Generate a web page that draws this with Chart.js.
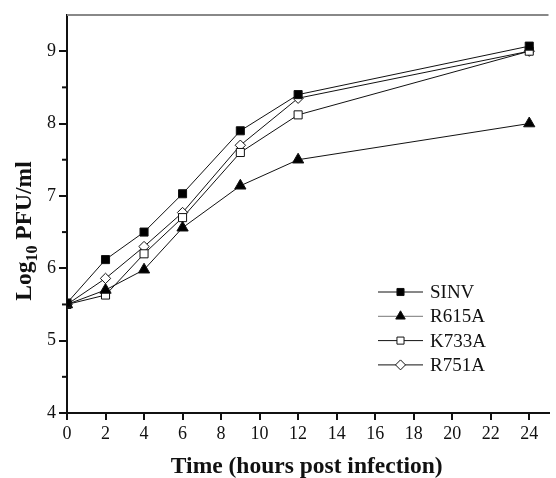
<!DOCTYPE html>
<html>
<head>
<meta charset="utf-8">
<script src="https://cdn.jsdelivr.net/npm/chart.js@4/dist/chart.umd.min.js"></script>
<style>
  html, body { margin: 0; padding: 0; background: #fff; }
  #wrap { width: 556px; height: 478px; }
</style>
</head>
<body>
<div id="wrap"><canvas id="growth"></canvas></div>
<script>
const hours = [0, 2, 4, 6, 9, 12, 24];
const sinv = [5.52, 6.12, 6.50, 7.03, 7.90, 8.40, 9.07];
const r615a = [5.50, 5.70, 5.98, 6.56, 7.14, 7.50, 8.00];
const k733a = [5.50, 5.63, 6.20, 6.70, 7.60, 8.12, 9.00];
const r751a = [5.50, 5.86, 6.30, 6.77, 7.70, 8.35, 9.00];
const seriesNames = ['SINV', 'R615A', 'K733A', 'R751A'];
const xTitle = 'Time (hours post infection)';

const FONT = '"Liberation Serif", "Times New Roman", serif';

const styles = [
  { pointStyle: 'rect', fill: '#000', radius: 5.7, legend: 5 },
  { pointStyle: 'triangle', fill: '#000', radius: 6.5, legend: 5.5 },
  { pointStyle: 'rect', fill: '#fff', radius: 5.7, legend: 5 },
  { pointStyle: 'rectRot', fill: '#fff', radius: 5.2, legend: 5 },
];

function pts(values) {
  return values.map((v, i) => ({ x: hours[i], y: v }));
}

function dataset(label, values, st) {
  return {
    label,
    data: pts(values),
    borderColor: '#111',
    borderWidth: 1,
    pointStyle: st.pointStyle,
    pointRadius: st.radius,
    pointBackgroundColor: st.fill,
    pointBorderColor: '#111',
    pointBorderWidth: 1,
    legendRadius: st.legend,
    tension: 0,
  };
}

const extras = {
  id: 'extras',
  afterDraw(chart) {
    const { ctx, chartArea: a, scales } = chart;
    ctx.save();
    // top border
    ctx.strokeStyle = '#888';
    ctx.lineWidth = 2;
    ctx.beginPath();
    ctx.moveTo(a.left, a.top);
    ctx.lineTo(a.right, a.top);
    ctx.stroke();
    // minor y ticks
    ctx.strokeStyle = '#111';
    ctx.lineWidth = 2;
    for (let v = 4.5; v < 9.5; v += 1) {
      const y = scales.y.getPixelForValue(v);
      ctx.beginPath();
      ctx.moveTo(a.left - 5, y);
      ctx.lineTo(a.left, y);
      ctx.stroke();
    }
    // axis titles
    ctx.fillStyle = '#111';
    ctx.textAlign = 'center';
    ctx.textBaseline = 'alphabetic';
    ctx.font = 'bold 23.5px ' + FONT;
    ctx.fillText(xTitle, (a.left + a.right) / 2 - 1, 473);

    ctx.translate(31, 231);
    ctx.rotate(-Math.PI / 2);
    const big = 'bold 23.5px ' + FONT;
    const small = 'bold 16px ' + FONT;
    ctx.font = big;
    const w1 = ctx.measureText('Log').width;
    const w3 = ctx.measureText(' PFU/ml').width;
    ctx.font = small;
    const w2 = ctx.measureText('10').width;
    let x = -(w1 + w2 + w3) / 2;
    ctx.textAlign = 'left';
    ctx.font = big;
    ctx.fillText('Log', x, 0);
    x += w1;
    ctx.font = small;
    ctx.fillText('10', x, 6);
    x += w2;
    ctx.font = big;
    ctx.fillText(' PFU/ml', x, 0);
    ctx.restore();

    // legend
    ctx.save();
    const lx = 378, lw = 45, ly0 = 292, step = 24.3;
    chart.data.datasets.forEach((ds, i) => {
      const y = ly0 + i * step;
      ctx.strokeStyle = i === 1 ? '#777' : '#111';
      ctx.lineWidth = 1;
      ctx.beginPath();
      ctx.moveTo(lx, y);
      ctx.lineTo(lx + lw, y);
      ctx.stroke();
      ctx.fillStyle = ds.pointBackgroundColor;
      ctx.strokeStyle = '#111';
      Chart.helpers.drawPoint(ctx, { pointStyle: ds.pointStyle, radius: ds.legendRadius, borderWidth: 1 }, lx + lw / 2, y);
      ctx.fillStyle = '#111';
      ctx.font = '19px ' + FONT;
      ctx.textAlign = 'left';
      ctx.textBaseline = 'middle';
      ctx.fillText(ds.label, lx + lw + 7, y + 1);
    });
    ctx.restore();
  },
};

new Chart(document.getElementById('growth'), {
  type: 'line',
  data: {
    datasets: [
      dataset(seriesNames[0], sinv, styles[0]),
      dataset(seriesNames[1], r615a, styles[1]),
      dataset(seriesNames[2], k733a, styles[2]),
      dataset(seriesNames[3], r751a, styles[3]),
    ],
  },
  options: {
    responsive: true,
    maintainAspectRatio: false,
    animation: false,
    layout: { padding: { top: 15, right: 0, left: 0, bottom: 0 } },
    plugins: { legend: { display: false }, tooltip: { enabled: false } },
    scales: {
      x: {
        type: 'linear',
        min: 0,
        max: 25,
        afterFit(scale) { scale.height = 65; },
        afterBuildTicks(scale) {
          scale.ticks = [0, 2, 4, 6, 8, 10, 12, 14, 16, 18, 20, 22, 24].map((v) => ({ value: v }));
        },
        border: { display: true, color: '#111', width: 2 },
        grid: { drawOnChartArea: false, drawTicks: true, tickLength: 7, color: '#111', lineWidth: 2 },
        ticks: { color: '#111', font: { family: FONT, size: 18 }, padding: 3, maxRotation: 0 },
      },
      y: {
        type: 'linear',
        min: 4,
        max: 9.5,
        afterFit(scale) { scale.width = 67; },
        afterBuildTicks(scale) {
          scale.ticks = [4, 5, 6, 7, 8, 9].map((v) => ({ value: v }));
        },
        border: { display: true, color: '#111', width: 2 },
        grid: { drawOnChartArea: false, drawTicks: true, tickLength: 8, color: '#111', lineWidth: 2 },
        ticks: { color: '#111', font: { family: FONT, size: 18 }, padding: 3 },
      },
    },
  },
  plugins: [extras],
});
</script>
</body>
</html>
